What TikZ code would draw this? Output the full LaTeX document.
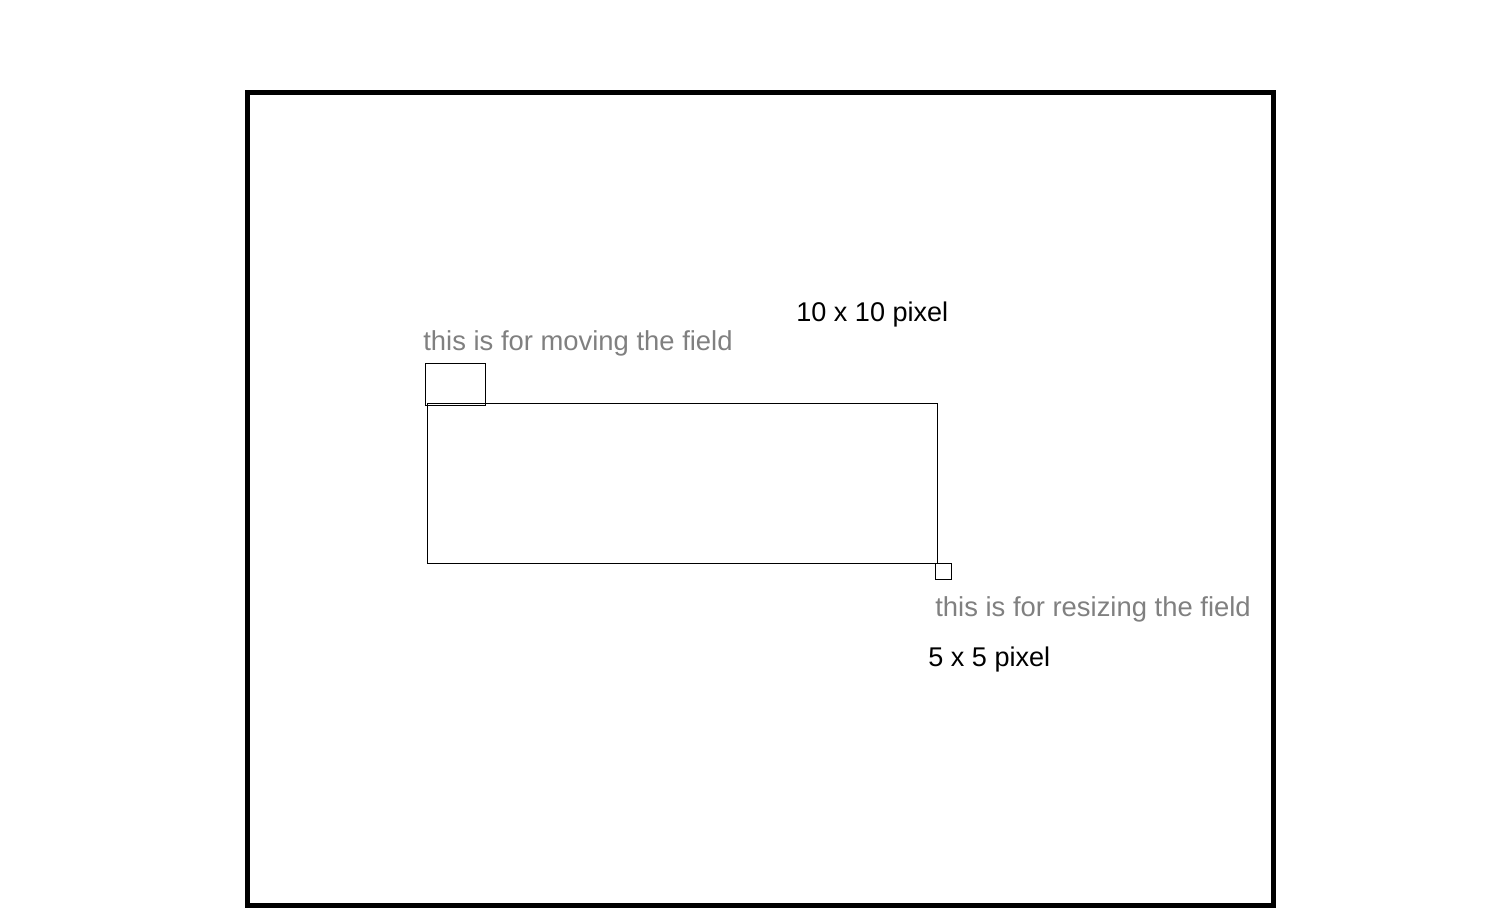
\documentclass[tikz,border=0pt]{standalone}
\usepackage{fontspec}
\setmainfont{Liberation Sans}

\begin{document}
\begin{tikzpicture}[x=0.02cm,y=-0.02cm]
  \tikzstyle{frame}=[draw=black,line width=2.8pt]
  \tikzstyle{box}=[draw=black,line width=0.5pt]
  \tikzstyle{hint}=[anchor=base west,inner sep=0pt,text=black!50,font=\fontsize{15.6}{18}\selectfont]
  \tikzstyle{size}=[anchor=base west,inner sep=0pt,text=black,font=\fontsize{15.4}{18}\selectfont]

\useasboundingbox (0,0) rectangle (1496,920);

\begin{scope}
\draw [frame] (247.5,92.5) rectangle (1273.5,905.5);

\draw [box] (427,403.5) rectangle (937,563.5);
\draw [box] (425.5,363.5) rectangle (485.5,405);
\draw [box] (935.5,563.5) rectangle (951,579);

\node [size] (movesize) at (796,321) {10 x 10 pixel};
\node [hint] (movehint) at (423,350) {this is for moving the field};
\node [hint] (resizehint) at (935,616) {this is for resizing the field};
\node [size] (resizesize) at (928,666) {5 x 5 pixel};
\end{scope}
\end{tikzpicture}
\end{document}
